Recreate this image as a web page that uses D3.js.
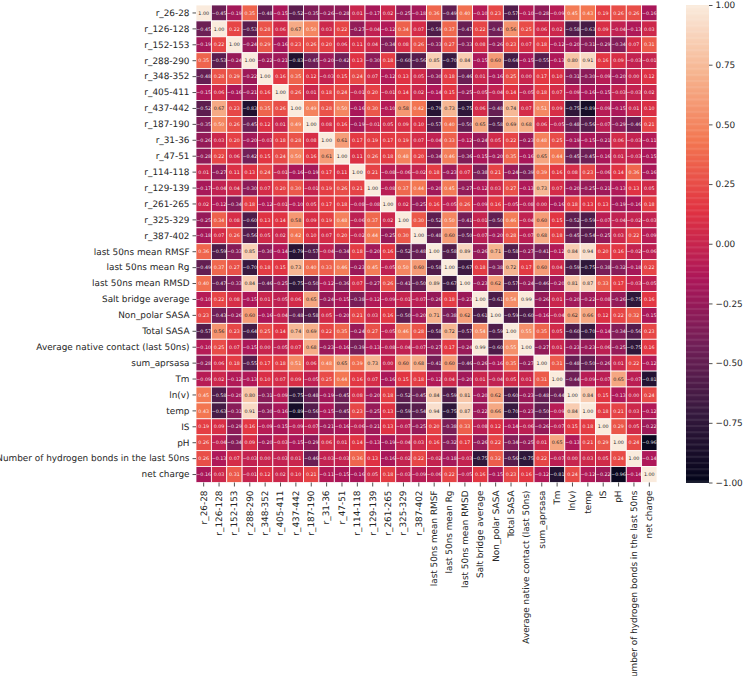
<!DOCTYPE html>
<html>
<head>
<meta charset="utf-8">
<script src="https://cdn.jsdelivr.net/npm/d3@7"></script>
<style>
  html, body { margin: 0; padding: 0; background: #fff; }
  svg { display: block; }
  text { font-family: "DejaVu Sans", sans-serif; text-rendering: geometricPrecision; }
</style>
</head>
<body>
<svg id="chart" width="743" height="676"></svg>
<script>
const labels = ["r_26-28","r_126-128","r_152-153","r_288-290","r_348-352","r_405-411","r_437-442","r_187-190","r_31-36","r_47-51","r_114-118","r_129-139","r_261-265","r_325-329","r_387-402","last 50ns mean RMSF","last 50ns mean Rg","last 50ns mean RMSD","Salt bridge average","Non_polar SASA","Total SASA","Average native contact (last 50ns)","sum_aprsasa","Tm","ln(v)","temp","IS","pH","Number of hydrogen bonds in the last 50ns","net charge"];

// Pearson correlations, one row per variable
const r0  = [1.00,-0.45,-0.19,0.35,-0.48,-0.15,-0.52,-0.35,-0.26,-0.28,0.01,-0.17,0.02,-0.25,-0.18,0.36,-0.49,0.40,-0.10,0.23,-0.57,-0.10,-0.28,-0.09,0.45,0.43,0.19,0.26,0.26,-0.16];
const r1  = [-0.45,1.00,0.22,-0.53,0.28,0.06,0.67,0.50,0.03,0.22,-0.27,-0.04,-0.12,0.34,0.07,-0.59,0.37,-0.47,0.22,-0.43,0.56,0.25,0.06,0.02,-0.58,-0.63,0.09,-0.04,-0.13,0.03];
const r2  = [-0.19,0.22,1.00,-0.24,0.29,-0.16,0.23,0.26,0.20,0.06,0.11,0.04,-0.34,0.08,0.26,-0.33,0.27,-0.33,0.08,-0.26,0.23,0.07,0.18,-0.12,-0.20,-0.31,-0.29,-0.34,0.07,0.31];
const r3  = [0.35,-0.53,-0.24,1.00,-0.22,-0.21,-0.83,-0.45,-0.20,-0.42,0.13,-0.30,0.18,-0.60,-0.56,0.85,-0.70,0.84,-0.15,0.60,-0.64,-0.15,-0.55,-0.13,0.80,0.91,0.16,0.09,-0.03,-0.01];
const r4  = [-0.48,0.28,0.29,-0.22,1.00,0.16,0.35,0.12,-0.03,0.15,0.24,0.07,-0.12,0.13,0.05,-0.30,0.18,-0.46,0.01,-0.16,0.25,-0.001,0.17,0.10,-0.31,-0.30,-0.09,-0.20,0.00,0.12];
const r5  = [-0.15,0.06,-0.16,-0.21,0.16,1.00,0.26,0.01,0.18,0.24,-0.01,0.20,-0.01,0.14,0.02,-0.14,0.15,-0.25,-0.05,-0.04,0.14,-0.05,0.18,0.07,-0.09,-0.16,-0.15,-0.03,-0.03,0.02];
const r6  = [-0.52,0.67,0.23,-0.83,0.35,0.26,1.00,0.49,0.28,0.50,-0.16,0.30,-0.10,0.58,0.42,-0.79,0.73,-0.75,0.06,-0.48,0.74,0.07,0.51,0.09,-0.75,-0.89,-0.09,-0.15,0.01,0.10];
const r7  = [-0.35,0.50,0.26,-0.45,0.12,0.01,0.49,1.00,0.08,0.16,-0.19,-0.01,0.05,0.09,0.10,-0.57,0.40,-0.50,0.65,-0.58,0.69,0.68,0.06,-0.05,-0.48,-0.56,-0.07,-0.29,-0.46,0.21];
const r8  = [-0.26,0.03,0.20,-0.20,-0.03,0.18,0.28,0.08,1.00,0.61,0.17,0.19,0.17,0.19,0.07,-0.04,0.33,-0.12,-0.24,0.05,0.22,-0.23,0.48,0.25,-0.19,-0.15,-0.21,0.06,-0.03,-0.11];
const r9  = [-0.28,0.22,0.06,-0.42,0.15,0.24,0.50,0.16,0.61,1.00,0.11,0.26,0.18,0.48,0.20,-0.34,0.46,-0.36,-0.15,-0.20,0.35,-0.16,0.65,0.44,-0.45,-0.45,-0.16,0.01,-0.03,-0.15];
const r10 = [0.01,-0.27,0.11,0.13,0.24,-0.01,-0.16,-0.19,0.17,0.11,1.00,0.21,-0.08,-0.06,-0.02,0.18,-0.23,0.07,-0.38,0.21,-0.24,-0.39,0.39,0.16,0.08,0.23,-0.06,0.14,0.36,-0.16];
const r11 = [-0.17,-0.04,0.04,-0.30,0.07,0.20,0.30,-0.01,0.19,0.26,0.21,1.00,-0.08,0.37,0.44,-0.20,0.45,-0.27,-0.12,0.03,0.27,-0.13,0.73,0.07,-0.20,-0.25,-0.21,-0.13,0.13,0.05];
const r12 = [0.02,-0.12,-0.34,0.18,-0.12,-0.01,-0.10,0.05,0.17,0.18,-0.08,-0.08,1.00,0.02,-0.25,0.16,-0.05,0.26,-0.09,0.16,-0.05,-0.08,0.00,-0.16,0.18,0.13,0.13,-0.19,-0.16,0.18];
const r13 = [-0.25,0.34,0.08,-0.60,0.13,0.14,0.58,0.09,0.19,0.48,-0.06,0.37,0.02,1.00,0.30,-0.52,0.50,-0.41,-0.01,-0.50,0.46,-0.04,0.60,0.15,-0.52,-0.59,-0.07,-0.04,-0.02,-0.03];
const r14 = [-0.18,0.07,0.26,-0.56,0.05,0.02,0.42,0.10,0.07,0.20,-0.02,0.44,-0.25,0.30,1.00,-0.48,0.60,-0.50,-0.07,-0.20,0.28,-0.07,0.68,0.18,-0.45,-0.54,-0.25,0.03,0.22,-0.09];
const r15 = [0.36,-0.59,-0.33,0.85,-0.30,-0.14,-0.79,-0.57,-0.04,-0.34,0.18,-0.20,0.16,-0.52,-0.48,1.00,-0.58,0.89,-0.26,0.71,-0.58,-0.27,-0.41,-0.12,0.84,0.94,0.20,0.16,-0.02,-0.06];
const r16 = [-0.49,0.37,0.27,-0.70,0.18,0.15,0.73,0.40,0.33,0.46,-0.23,0.45,-0.05,0.50,0.60,-0.58,1.00,-0.67,0.18,-0.38,0.72,0.17,0.60,0.04,-0.59,-0.75,-0.38,-0.32,-0.18,0.22];
const r17 = [0.40,-0.47,-0.33,0.84,-0.46,-0.25,-0.75,-0.50,-0.12,-0.36,0.07,-0.27,0.26,-0.41,-0.50,0.89,-0.67,1.00,-0.23,0.62,-0.57,-0.24,-0.46,-0.20,0.81,0.87,0.33,0.17,-0.03,-0.05];
const r18 = [-0.10,0.22,0.08,-0.15,0.01,-0.05,0.06,0.65,-0.24,-0.15,-0.38,-0.12,-0.09,-0.01,-0.07,-0.26,0.18,-0.23,1.00,-0.61,0.54,0.99,-0.26,0.01,-0.20,-0.22,-0.08,-0.26,-0.75,0.16];
const r19 = [0.23,-0.43,-0.26,0.60,-0.16,-0.04,-0.48,-0.58,0.05,-0.20,0.21,0.03,0.16,-0.50,-0.20,0.71,-0.38,0.62,-0.61,1.00,-0.59,-0.60,-0.16,-0.04,0.62,0.66,0.12,0.22,0.32,-0.15];
const r20 = [-0.57,0.56,0.23,-0.64,0.25,0.14,0.74,0.69,0.22,0.35,-0.24,0.27,-0.05,0.46,0.28,-0.58,0.72,-0.57,0.54,-0.59,1.00,0.55,0.35,0.05,-0.60,-0.70,-0.14,-0.34,-0.56,0.23];
const r21 = [-0.10,0.25,0.07,-0.15,-0.001,-0.05,0.07,0.68,-0.23,-0.16,-0.39,-0.13,-0.08,-0.04,-0.07,-0.27,0.17,-0.24,0.99,-0.60,0.55,1.00,-0.27,0.01,-0.23,-0.23,-0.06,-0.25,-0.75,0.16];
const r22 = [-0.28,0.06,0.18,-0.55,0.17,0.18,0.51,0.06,0.48,0.65,0.39,0.73,0.00,0.60,0.68,-0.41,0.60,-0.46,-0.26,-0.16,0.35,-0.27,1.00,0.31,-0.48,-0.50,-0.26,0.01,0.22,-0.12];
const r23 = [-0.09,0.02,-0.12,-0.13,0.10,0.07,0.09,-0.05,0.25,0.44,0.16,0.07,-0.16,0.15,0.18,-0.12,0.04,-0.20,0.01,-0.04,0.05,0.01,0.31,1.00,-0.44,-0.09,-0.07,0.65,-0.07,-0.81];
const r24 = [0.45,-0.58,-0.20,0.80,-0.31,-0.09,-0.75,-0.48,-0.19,-0.45,0.08,-0.20,0.18,-0.52,-0.45,0.84,-0.59,0.81,-0.20,0.62,-0.60,-0.23,-0.48,-0.44,1.00,0.84,0.15,-0.13,0.00,0.24];
const r25 = [0.43,-0.63,-0.31,0.91,-0.30,-0.16,-0.89,-0.56,-0.15,-0.45,0.23,-0.25,0.13,-0.59,-0.54,0.94,-0.75,0.87,-0.22,0.66,-0.70,-0.23,-0.50,-0.09,0.84,1.00,0.18,0.21,0.03,-0.12];
const r26 = [0.19,0.09,-0.29,0.16,-0.09,-0.15,-0.09,-0.07,-0.21,-0.16,-0.06,-0.21,0.13,-0.07,-0.25,0.20,-0.38,0.33,-0.08,0.12,-0.14,-0.06,-0.26,-0.07,0.15,0.18,1.00,0.29,0.05,-0.22];
const r27 = [0.26,-0.04,-0.34,0.09,-0.20,-0.03,-0.15,-0.29,0.06,0.01,0.14,-0.13,-0.19,-0.04,0.03,0.16,-0.32,0.17,-0.26,0.22,-0.34,-0.25,0.01,0.65,-0.13,0.21,0.29,1.00,0.24,-0.96];
const r28 = [0.26,-0.13,0.07,-0.03,0.00,-0.03,0.01,-0.46,-0.03,-0.03,0.36,0.13,-0.16,-0.02,0.22,-0.02,-0.18,-0.03,-0.75,0.32,-0.56,-0.75,0.22,-0.07,0.00,0.03,0.05,0.24,1.00,-0.14];
const r29 = [-0.16,0.03,0.31,-0.01,0.12,0.02,0.10,0.21,-0.11,-0.15,-0.16,0.05,0.18,-0.03,-0.09,-0.06,0.22,-0.05,0.16,-0.15,0.23,0.16,-0.12,-0.81,0.24,-0.12,-0.22,-0.96,-0.14,1.00];
const matrix = [r0,r1,r2,r3,r4,r5,r6,r7,r8,r9,r10,r11,r12,r13,r14,r15,r16,r17,r18,r19,r20,r21,r22,r23,r24,r25,r26,r27,r28,r29];

const barTicks = [-1,-0.75,-0.5,-0.25,0,0.25,0.5,0.75,1];

// Sequential dark-to-cream ramp sampled at even steps
const rampStops = ["#03051a","#35193e","#701f57","#ad1759","#e13342","#f37651","#f6b48f","#faebdd"];
const ramp = d3.scaleLinear()
  .domain(rampStops.map((_, i) => -1 + 2 * i / (rampStops.length - 1)))
  .range(rampStops)
  .interpolate(d3.interpolateRgb)
  .clamp(true);

const box = { left: 196, right: 657, top: 5, bottom: 482.5 };
const bar = { left: 686, right: 709 };
const ink = "#262626";
const labelSize = 8.9;

const svg = d3.select("#chart");
const x = d3.scaleBand().domain(d3.range(labels.length)).range([box.left, box.right]);
const y = d3.scaleBand().domain(d3.range(labels.length)).range([box.top, box.bottom]);

const cells = matrix.flatMap((row, i) => row.map((v, j) => ({ i, j, v })));

svg.append("g").selectAll("rect").data(cells).join("rect")
  .attr("x", d => x(d.j))
  .attr("y", d => y(d.i))
  .attr("width", x.bandwidth())
  .attr("height", y.bandwidth())
  .attr("fill", d => ramp(d.v))
  .attr("stroke", "#fff")
  .attr("stroke-width", 0.8);

// Annotation colour follows the luminance of the cell behind it
function luminance(c) {
  const rgb = d3.rgb(c);
  const f = u => { u /= 255; return u <= 0.03928 ? u / 12.92 : Math.pow((u + 0.055) / 1.055, 2.4); };
  return 0.2126 * f(rgb.r) + 0.7152 * f(rgb.g) + 0.0722 * f(rgb.b);
}

svg.append("g").selectAll("text").data(cells).join("text")
  .attr("x", d => x(d.j) + x.bandwidth() / 2)
  .attr("y", d => y(d.i) + y.bandwidth() / 2)
  .attr("dy", "0.35em")
  .attr("text-anchor", "middle")
  .attr("font-size", 4.8)
  .attr("fill", d => luminance(ramp(d.v)) > 0.408 ? ink : "#ffffff")
  .attr("fill-opacity", d => luminance(ramp(d.v)) > 0.408 ? 1 : 0.9)
  .text(d => d3.format(".2f")(d.v));

const xAxis = d3.axisBottom(x).tickSize(4).tickPadding(3).tickFormat(i => labels[i]);
const gx = svg.append("g").attr("transform", `translate(0,${box.bottom})`).call(xAxis);
gx.select(".domain").remove();
gx.selectAll("line").attr("stroke", ink).attr("stroke-width", 0.8);
gx.selectAll("text")
  .attr("font-size", labelSize).attr("fill", ink)
  .attr("text-anchor", "end")
  .attr("dy", "0.32em")
  .attr("transform", "rotate(-90)")
  .attr("x", -8).attr("y", 0);

const yAxis = d3.axisLeft(y).tickSize(3.5).tickPadding(3).tickFormat(i => labels[i]);
const gy = svg.append("g").attr("transform", `translate(${box.left},0)`).call(yAxis);
gy.select(".domain").remove();
gy.selectAll("line").attr("stroke", ink).attr("stroke-width", 0.8);
gy.selectAll("text").attr("font-size", labelSize).attr("fill", ink);

// Colour bar, drawn as thin strips from the same ramp
const barY = d3.scaleLinear().domain([-1, 1]).range([box.bottom, box.top]);
const strips = d3.range(-1, 1, 0.005);
svg.append("g").selectAll("rect").data(strips).join("rect")
  .attr("x", bar.left)
  .attr("width", bar.right - bar.left)
  .attr("y", d => barY(d + 0.005))
  .attr("height", d => barY(d) - barY(d + 0.005) + 0.4)
  .attr("fill", d => ramp(d + 0.0025));

const barAxis = d3.axisRight(barY).tickValues(barTicks).tickSize(3.5).tickPadding(3).tickFormat(d3.format(".2f"));
const gb = svg.append("g").attr("transform", `translate(${bar.right},0)`).call(barAxis);
gb.select(".domain").remove();
gb.selectAll("line").attr("stroke", ink).attr("stroke-width", 0.8);
gb.selectAll("text").attr("font-size", labelSize).attr("fill", ink);
</script>
</body>
</html>
